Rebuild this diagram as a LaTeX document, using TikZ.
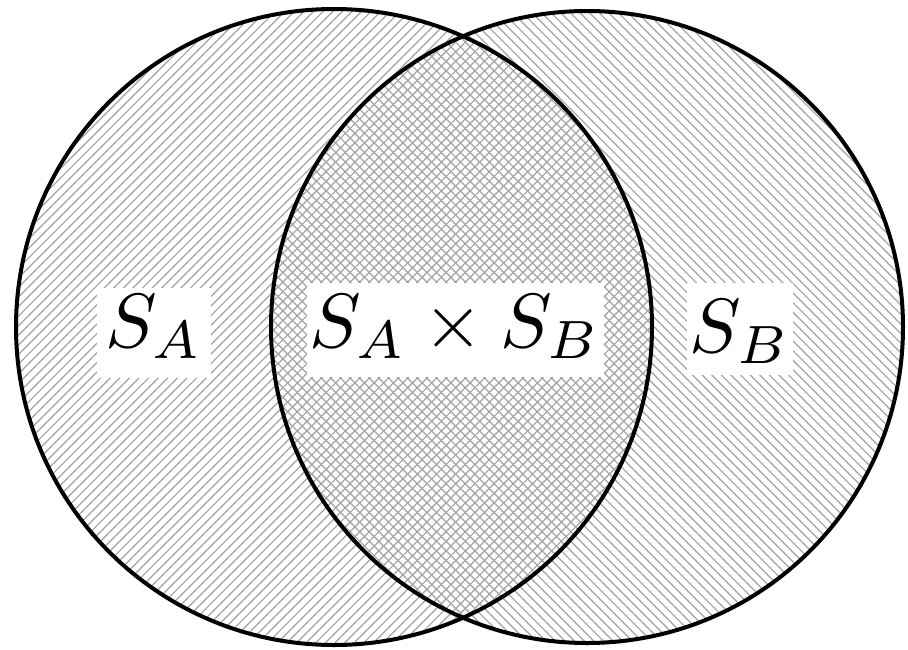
\documentclass[tikz,border=0pt]{standalone}
\usepackage{graphicx}
\usepackage{fontspec}
\newcommand{\bigmath}[1]{\scalebox{7.7}{$#1$}}
\tikzset{
  hatchline/.style={draw=black!36, line width=1.2pt},
  rim/.style={draw=black, line width=4pt},
  lab/.style={fill=white, inner sep=0pt, anchor=base}
}
\begin{document}
\begin{tikzpicture}[x=1pt,y=-1pt]
\fill[white] (0,0) rectangle (908,649);
\useasboundingbox (0,0) rectangle (908,649);
\coordinate (ca) at (334,327);
\coordinate (cb) at (587,327);
% left circle hatching "/"
\begin{scope}
  \clip (ca) circle[radius=318];
  \foreach \k in {-50,...,50}
    \draw[hatchline] (334+\k*9.6-420,327+420) -- ++(840,-840);
\end{scope}
% right circle hatching "\"
\begin{scope}
  \clip (cb) circle[radius=316];
  \foreach \k in {-50,...,50}
    \draw[hatchline] (587+\k*9.6-420,327-420) -- ++(840,840);
\end{scope}
\draw[rim] (ca) circle[radius=318];
\draw[rim] (cb) circle[radius=316];
% labels
\node[lab, minimum width=114pt, text height=59pt, text depth=31pt] (la) at (154,347) {\bigmath{S_A}};
\node[lab, minimum width=297pt, text height=64pt, text depth=30pt] (lab) at (455,347) {\bigmath{S_A\times S_B}};
\node[lab, minimum width=106pt, text height=69pt, text depth=23pt] (lb) at (740,352) {\bigmath{S_B}};
\end{tikzpicture}
\end{document}
